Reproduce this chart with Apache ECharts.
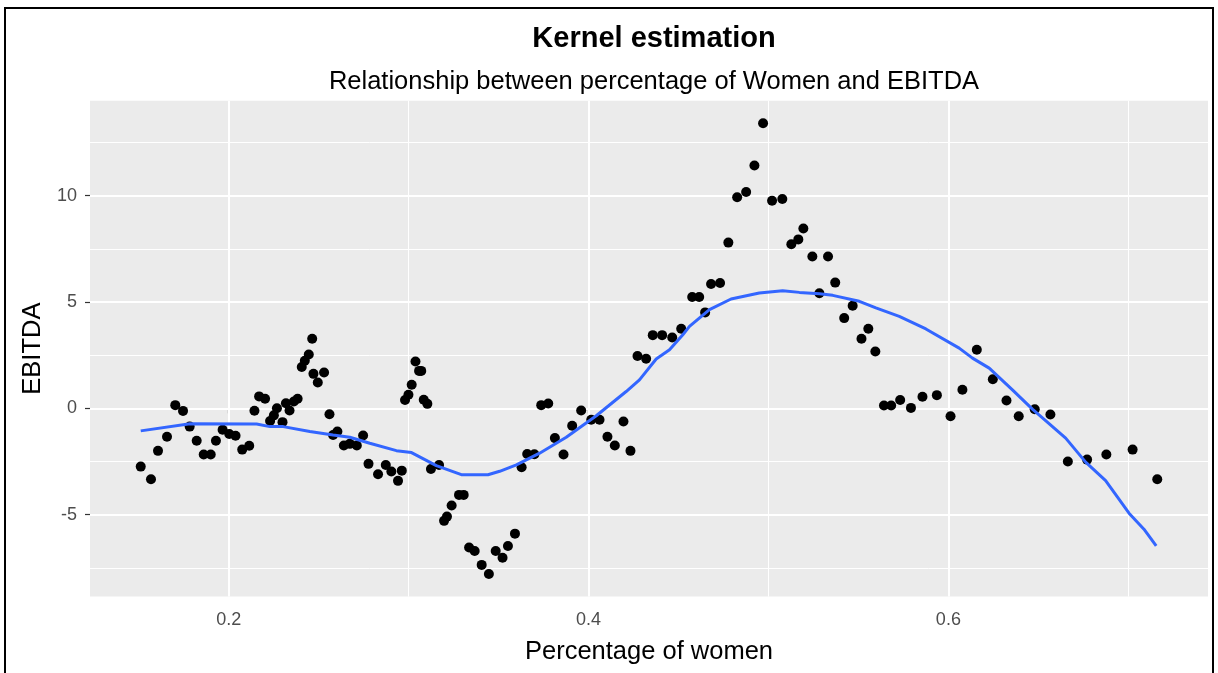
<!DOCTYPE html>
<html>
<head>
<meta charset="utf-8">
<title>Kernel estimation</title>
<script src="https://cdn.jsdelivr.net/npm/echarts@6/dist/echarts.min.js"></script>
<style>
  html, body { margin: 0; padding: 0; background: #fff; }
  #chart { width: 1218px; height: 673px; }
</style>
</head>
<body>
<div id="chart"></div>
<script>
// tick values
const xMajorTicks = [0.2, 0.4, 0.6];
const xMinorTicks = [0.3, 0.5, 0.7];
const yMajorTicks = [-5, 0, 5, 10];
const yMinorTicks = [-7.5, -2.5, 2.5, 7.5, 12.5];

// observed points (share of women, EBITDA)
const pctWomen = [
  0.1511, 0.1568, 0.1607, 0.1657, 0.1703, 0.1746, 0.1783, 0.1822, 0.1861, 0.1900,
  0.1929, 0.1966, 0.2003, 0.2038, 0.2075, 0.2114, 0.2143, 0.2169, 0.2202, 0.2230,
  0.2251, 0.2268, 0.2299, 0.2318, 0.2338, 0.2362, 0.2383, 0.2406, 0.2423, 0.2445,
  0.2464, 0.2471, 0.2495, 0.2530, 0.2560, 0.2580, 0.2604, 0.2640, 0.2673, 0.2712,
  0.2747, 0.2777, 0.2830, 0.2873, 0.2904, 0.2941, 0.2962, 0.2980, 0.2999, 0.3017,
  0.3038, 0.3058, 0.3070, 0.3084, 0.3104, 0.3124, 0.3169, 0.3197, 0.3213, 0.3239,
  0.3280, 0.3306, 0.3336, 0.3367, 0.3406, 0.3446, 0.3484, 0.3522, 0.3552, 0.3591,
  0.3628, 0.3659, 0.3699, 0.3737, 0.3776, 0.3813, 0.3861, 0.3909, 0.3959, 0.4015,
  0.4061, 0.4105, 0.4146, 0.4194, 0.4233, 0.4272, 0.4320, 0.4357, 0.4409, 0.4465,
  0.4515, 0.4576, 0.4615, 0.4648, 0.4681, 0.4731, 0.4777, 0.4826, 0.4876, 0.4922,
  0.4970, 0.5020, 0.5077, 0.5127, 0.5166, 0.5194, 0.5244, 0.5283, 0.5331, 0.5371,
  0.5421, 0.5468, 0.5517, 0.5555, 0.5594, 0.5642, 0.5682, 0.5732, 0.5792, 0.5856,
  0.5936, 0.6012, 0.6078, 0.6158, 0.6247, 0.6323, 0.6391, 0.6480, 0.6567, 0.6664,
  0.6771, 0.6878, 0.7024, 0.7161
];
const ebitda = [
  -2.74, -3.33, -2.00, -1.34, 0.15, -0.12, -0.86, -1.52, -2.17, -2.17,
  -1.52, -1.01, -1.21, -1.29, -1.94, -1.76, -0.11, 0.56, 0.45, -0.60,
  -0.33, 0.00, -0.65, 0.24, -0.10, 0.32, 0.45, 1.94, 2.24, 2.53,
  3.27, 1.62, 1.21, 1.68, -0.28, -1.25, -1.09, -1.75, -1.67, -1.75,
  -1.28, -2.61, -3.10, -2.66, -2.97, -3.41, -2.93, 0.39, 0.64, 1.11,
  2.20, 1.76, 1.76, 0.40, 0.21, -2.85, -2.66, -5.29, -5.09, -4.57,
  -4.07, -4.07, -6.54, -6.71, -7.36, -7.79, -6.71, -7.02, -6.47, -5.89,
  -2.77, -2.15, -2.16, 0.15, 0.23, -1.40, -2.17, -0.82, -0.10, -0.54,
  -0.54, -1.34, -1.75, -0.62, -2.00, 2.46, 2.33, 3.44, 3.44, 3.33,
  3.74, 5.23, 5.23, 4.51, 5.84, 5.89, 7.79, 9.92, 10.17, 11.41,
  13.40, 9.76, 9.84, 7.71, 7.94, 8.45, 7.14, 5.41, 7.14, 5.91,
  4.24, 4.82, 3.27, 3.74, 2.67, 0.13, 0.13, 0.39, 0.02, 0.54,
  0.62, -0.37, 0.87, 2.75, 1.37, 0.37, -0.37, -0.04, -0.29, -2.50,
  -2.41, -2.17, -1.94, -3.33
];

// kernel smoother curve
const smoothX = [
  0.1511, 0.1785, 0.2155, 0.2229, 0.2303, 0.2451, 0.2580, 0.2673, 0.2784, 0.2932,
  0.3016, 0.3154, 0.3293, 0.3441, 0.3506, 0.3599, 0.3728, 0.3876, 0.4043, 0.4209,
  0.4283, 0.4376, 0.4450, 0.4524, 0.4561, 0.4672, 0.4792, 0.4949, 0.5079, 0.5172,
  0.5283, 0.5357, 0.5505, 0.5597, 0.5727, 0.5875, 0.6060, 0.6134, 0.6227, 0.6356,
  0.6467, 0.6652, 0.6763, 0.6874, 0.7004, 0.7087, 0.7155
];
const smoothY = [
  -1.06, -0.73, -0.74, -0.86, -0.86, -1.09, -1.25, -1.36, -1.64, -1.99,
  -2.08, -2.69, -3.12, -3.12, -2.96, -2.66, -2.11, -1.36, -0.35, 0.79,
  1.34, 2.32, 2.75, 3.46, 3.85, 4.64, 5.14, 5.42, 5.53, 5.45,
  5.39, 5.31, 5.03, 4.72, 4.32, 3.73, 2.83, 2.36, 1.89, 0.87,
  -0.04, -1.40, -2.53, -3.40, -4.93, -5.68, -6.47
];

const chart = echarts.init(document.getElementById('chart'), null, { renderer: 'canvas' });
const FONT = 'Liberation Sans, Arial, sans-serif';

const gridLine = (key, v, w) => ({ [key]: v, lineStyle: { color: '#FFFFFF', width: w, type: 'solid' } });
const gridMarks = []
  .concat(xMinorTicks.map(v => gridLine('xAxis', v, 1)))
  .concat(yMinorTicks.map(v => gridLine('yAxis', v, 1)))
  .concat(xMajorTicks.map(v => gridLine('xAxis', v, 2)))
  .concat(yMajorTicks.map(v => gridLine('yAxis', v, 2)));

const option = {
  animation: false,
  backgroundColor: '#FFFFFF',
  title: [
    {
      text: 'Kernel estimation',
      left: 649, top: 19, textAlign: 'center',
      textStyle: { fontFamily: FONT, fontSize: 29, fontWeight: 'bold', color: '#000' }
    },
    {
      text: 'Relationship between percentage of Women and EBITDA',
      left: 649, top: 64, textAlign: 'center',
      textStyle: { fontFamily: FONT, fontSize: 25.5, fontWeight: 'normal', color: '#000' }
    }
  ],
  graphic: [
    {
      type: 'rect', silent: true, z: 100,
      shape: { x: 5, y: 8, width: 1208, height: 720 },
      style: { fill: 'none', stroke: '#000', lineWidth: 2 }
    }
  ],
  grid: {
    left: 90, right: 10, top: 100.7, bottom: 76.4,
    containLabel: false,
    show: true, backgroundColor: '#EBEBEB', borderWidth: 0
  },
  xAxis: {
    type: 'value', min: 0.1229, max: 0.7443,
    name: 'Percentage of women', nameLocation: 'middle', nameGap: 42,
    nameTextStyle: { fontFamily: FONT, fontSize: 25.5, color: '#000' },
    axisLine: { show: false },
    axisTick: { show: true, customValues: xMajorTicks, length: 5, lineStyle: { color: '#333', width: 1.2 } },
    axisLabel: { customValues: xMajorTicks, margin: 14, fontFamily: FONT, fontSize: 18, color: '#4D4D4D',
      formatter: v => String(v) },
    splitLine: { show: false }
  },
  yAxis: {
    type: 'value', min: -8.85, max: 14.46,
    name: 'EBITDA', nameLocation: 'middle', nameRotate: 90, nameGap: 39,
    nameTextStyle: { fontFamily: FONT, fontSize: 25.5, color: '#000' },
    axisLine: { show: false },
    axisTick: { show: true, customValues: yMajorTicks, length: 5, lineStyle: { color: '#333', width: 1.2 } },
    axisLabel: { customValues: yMajorTicks, margin: 13, fontFamily: FONT, fontSize: 18, color: '#4D4D4D' },
    splitLine: { show: false }
  },
  series: [
    {
      name: 'grid', type: 'line', data: [], z: 1, silent: true,
      markLine: { z: 1, silent: true, symbol: ['none', 'none'], label: { show: false }, animation: false,
        emphasis: { disabled: true }, data: gridMarks }
    },
    {
      name: 'points', type: 'scatter', z: 10,
      symbol: 'circle', symbolSize: 10,
      itemStyle: { color: '#000000', opacity: 1 },
      data: pctWomen.map((x, i) => [x, ebitda[i]])
    },
    {
      name: 'kernel', type: 'line', z: 11,
      showSymbol: false, smooth: false,
      lineStyle: { color: '#3366FF', width: 3 },
      data: smoothX.map((x, i) => [x, smoothY[i]])
    }
  ]
};

chart.setOption(option);
window.addEventListener('resize', function () {
  chart.resize();
});
</script>
</body>
</html>
